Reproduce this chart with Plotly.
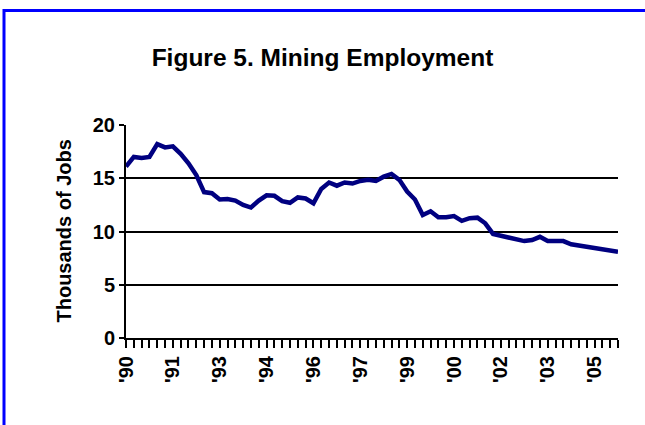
import plotly.graph_objects as go

# Quarterly categories 1990Q1 .. 2005Q4
quarters = [f"{y}Q{q}" for y in range(1990, 2006) for q in range(1, 5)]

mining_jobs = [
    16.1, 17.0, 16.9, 17.0, 18.2, 17.9, 18.0, 17.3, 16.4, 15.3,
    13.7, 13.6, 13.0, 13.05, 12.9, 12.5, 12.25, 12.9, 13.4, 13.35,
    12.85, 12.7, 13.2, 13.1, 12.65, 14.0, 14.6, 14.3, 14.6, 14.5,
    14.75, 14.85, 14.75, 15.15, 15.4, 14.85, 13.75, 13.0, 11.55, 11.9,
    11.33, 11.33, 11.45, 11.0, 11.25, 11.3, 10.77, 9.77, 9.6, 9.4,
    9.2, 9.1, 9.2, 9.5, 9.1, 9.1, 9.1, 8.8, 8.7, 8.55,
    8.45, 8.35, 8.2, 8.1,
]

tick_labels = ["'90", "'91", "'93", "'94", "'96", "'97", "'99", "'00", "'02", "'03", "'05"]
label_step = 6

y_ticks = [0, 5, 10, 15, 20]

ticktext = []
for i, q in enumerate(quarters):
    if i % label_step == 0 and i // label_step < len(tick_labels):
        ticktext.append(tick_labels[i // label_step])
    else:
        ticktext.append("")

FONT = "Liberation Sans, Arial, sans-serif"

fig = go.Figure()
fig.add_trace(go.Scatter(
    x=quarters, y=mining_jobs, mode="lines",
    line=dict(color="#000080", width=4.5),
    hoverinfo="skip", showlegend=False,
))

W, H = 645, 425
L, R, T, B = 126, 27, 125, 87
pw, ph = W - L - R, H - T - B

def px2x(px):
    return (px - L) / pw

def py2y(py):
    return (H - B - py) / ph

fig.update_layout(
    width=W, height=H,
    margin=dict(l=L, r=R, t=T, b=B, pad=0),
    paper_bgcolor="white", plot_bgcolor="white",
    font=dict(family=FONT, color="black"),
    title=dict(
        text="Figure 5. Mining Employment",
        x=0.5, xref="container", xanchor="center",
        y=1 - 57 / H, yref="container", yanchor="middle",
        font=dict(family=FONT, size=24.5, weight="bold", color="black"),
    ),
    xaxis=dict(
        type="category",
        range=[0, len(quarters) - 1],
        tickmode="array", tickvals=quarters, ticktext=ticktext,
        tickangle=-90,
        ticks="outside", ticklen=8, tickwidth=2, tickcolor="black",
        showline=True, linecolor="black", linewidth=2,
        showgrid=False, zeroline=False,
        tickfont=dict(family=FONT, size=20, weight="bold", color="black"),
    ),
    yaxis=dict(
        range=[0, 20],
        tickmode="array", tickvals=y_ticks,
        ticks="outside", ticklen=5, tickwidth=2, tickcolor="black",
        showline=True, linecolor="black", linewidth=2,
        showgrid=True, gridcolor="black", gridwidth=2,
        zeroline=False,
        ticksuffix=" ",
        tickfont=dict(family=FONT, size=20, weight="bold", color="black"),
    ),
    shapes=[dict(
        type="rect", xref="paper", yref="paper",
        x0=px2x(4), x1=px2x(720), y0=py2y(520), y1=py2y(10.5),
        line=dict(color="#0000FF", width=3), fillcolor="rgba(0,0,0,0)",
        layer="above",
    )],
    annotations=[dict(
        text="Thousands of Jobs", textangle=-90,
        xref="paper", yref="paper", x=px2x(63), y=0.5,
        xanchor="center", yanchor="middle", showarrow=False,
        font=dict(family=FONT, size=20, weight="bold", color="black"),
    )],
)

fig.write_html(
    "out.html",
    config={"displayModeBar": False, "responsive": False},
    post_script="document.body.style.margin='0';",
)
